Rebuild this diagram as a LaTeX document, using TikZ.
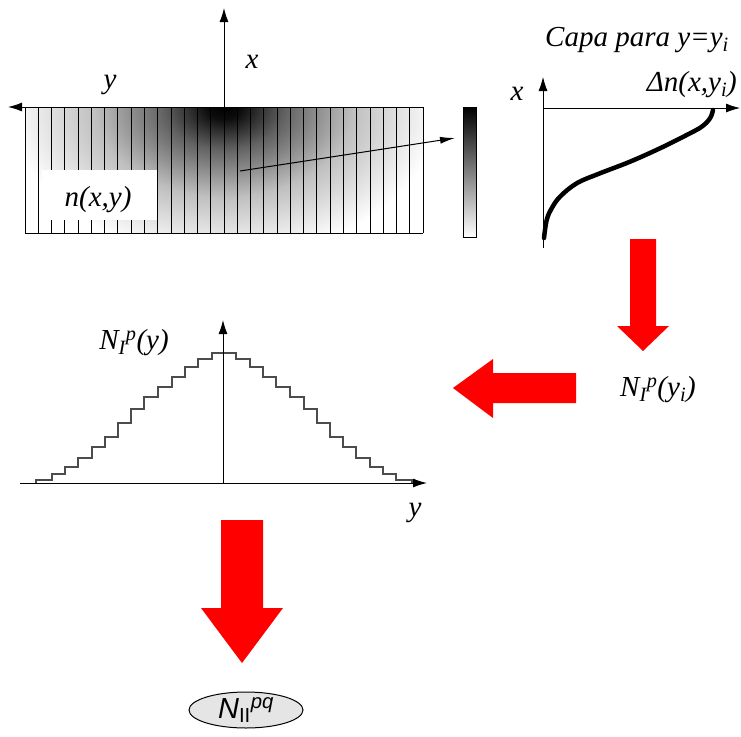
\documentclass[tikz,border=0pt]{standalone}
\usepackage{fontspec}
\setmainfont{Liberation Serif}
\setsansfont{Liberation Sans}
\newfontfamily\tnr{Liberation Serif}
\newfontfamily\arl{Liberation Sans}
\usetikzlibrary{arrows.meta,shapes.geometric}
\pgfdeclareradialshading{hotspot}{\pgfpoint{0bp}{0bp}}{color(0bp)=(black); color(2bp)=(black!95); color(7bp)=(black!62); color(15bp)=(black!25); color(25bp)=(white); color(50bp)=(white)}
\begin{document}
\begin{tikzpicture}[x=1pt,y=-1pt,
  lbl/.style={font=\tnr\fontsize{29}{34}\selectfont\itshape, inner sep=0pt},
  axisarrow/.style={line width=1pt, -{Latex[length=14pt,width=9pt]}},
  fatarrow/.style={fill=red, draw=none},
  stairs/.style={line width=1.2pt, black!70}]
\useasboundingbox (0,0) rectangle (741,736);
% ---------- top field n(x,y)
\begin{scope}
  \clip (25,107) rectangle (423,233);
  \shade[shading=hotspot] (224,107) ellipse [x radius=215pt, y radius=150pt];
\end{scope}
\foreach \k in {0,...,30}{
  \draw[line width=0.8pt] ({25+\k*13.267},107) -- ({25+\k*13.267},233);
}
\draw[line width=1pt] (25,233) -- (423,233);
\coordinate (yr) at (423,107);
\coordinate (yl) at (8,107);
\coordinate (xo) at (224,107);
\coordinate (xt) at (224,8);
\draw[axisarrow] (yr) -- (yl);
\draw[axisarrow] (xo) -- (xt);
\node[lbl] (lx) at (252,62) {x};
\node[lbl] (ly) at (110,85) {y};
\node[fill=white, minimum width=115pt, minimum height=50pt, inner sep=0pt] (box) at (99.5,195) {};
\node[lbl] (nxy) at (98,200) {n(x,y)};
\coordinate (pa) at (240,171);
\coordinate (pb) at (455,138);
\draw[line width=1pt, -{Latex[length=15pt,width=7pt]}] (pa) -- (pb);
% colour bar
\shade[top color=black, middle color=black!40, bottom color=white] (463,107) rectangle (476,237);
\draw[line width=0.8pt] (463,107) rectangle (476,237);
% ---------- right profile
\coordinate (o2) at (543,108);
\coordinate (o2b) at (543,248);
\coordinate (o2t) at (543,77);
\coordinate (o2r) at (740,108);
\draw[axisarrow, line width=0.8pt] (o2b) -- (o2t);
\draw[axisarrow, line width=0.8pt] (o2) -- (o2r);
\draw[line width=4.5pt, line cap=round] plot[smooth, tension=0.6] coordinates {(544,238) (546.7,220) (551.7,208.3) (560,196.7) (576.7,183.3) (600,173.3) (630,161.7) (660,148.3) (686.7,135) (701.7,126.7) (710,118.3) (713,110)};
\node[lbl] (capa) at (637,40) {Capa para y=y\textsubscript{i}};
\node[lbl, anchor=east] (dn) at (737,85) {Δn(x,y\textsubscript{i})};
\node[lbl] (lx2) at (517,94) {x};
% ---------- red arrows
\fill[fatarrow] (630,239) -- (656,239) -- (656,326) -- (669,326) -- (643,351) -- (617,326) -- (630,326) -- cycle;
\node[lbl] (nip) at (658,390) {N\textsubscript{I}\textsuperscript{p}(y\textsubscript{i})};
\fill[fatarrow] (576,373) -- (493,373) -- (493,359) -- (453,388) -- (493,418) -- (493,403) -- (576,403) -- cycle;
% ---------- staircase plot
\coordinate (h0) at (20,483);
\coordinate (h1) at (427,483);
\coordinate (v0) at (223,483);
\coordinate (v1) at (223,320);
\draw[stairs] (36,483) -- (36,480) -- (52,480) -- (52,474) -- (65,474) -- (65,467) -- (78,467) -- (78,458) -- (92,458) -- (92,447) -- (105,447) -- (105,437) -- (118,437) -- (118,423) -- (131,423) -- (131,409) -- (144,409) -- (144,397) -- (158,397) -- (158,387) -- (172,387) -- (172,377) -- (185,377) -- (185,367) -- (198,367) -- (198,359) -- (212,359) -- (212,353) -- (236,353) -- (236,359) -- (250,359) -- (250,367) -- (263,367) -- (263,377) -- (276,377) -- (276,387) -- (290,387) -- (290,397) -- (304,397) -- (304,409) -- (317,409) -- (317,423) -- (330,423) -- (330,437) -- (343,437) -- (343,447) -- (356,447) -- (356,458) -- (370,458) -- (370,467) -- (383,467) -- (383,474) -- (396,474) -- (396,480) -- (412,480) -- (412,483);
\draw[axisarrow] (h0) -- (h1);
\draw[axisarrow] (v0) -- (v1);
\node[lbl] (nipy) at (134,343) {N\textsubscript{I}\textsuperscript{p}(y)};
\node[lbl] (ly2) at (415,513) {y};
% ---------- final arrow and result
\fill[fatarrow] (221,520) -- (263,520) -- (263,608) -- (283,608) -- (242,663) -- (201,608) -- (221,608) -- cycle;
\node[draw, ellipse, fill=black!10, line width=1pt, minimum width=114pt, minimum height=36pt, inner sep=0pt, font=\arl\fontsize{29}{34}\selectfont] (nii) at (246,710) {\raisebox{-1pt}{\itshape N}\textsubscript{II}\textsuperscript{\itshape pq}};
\end{tikzpicture}
\end{document}
